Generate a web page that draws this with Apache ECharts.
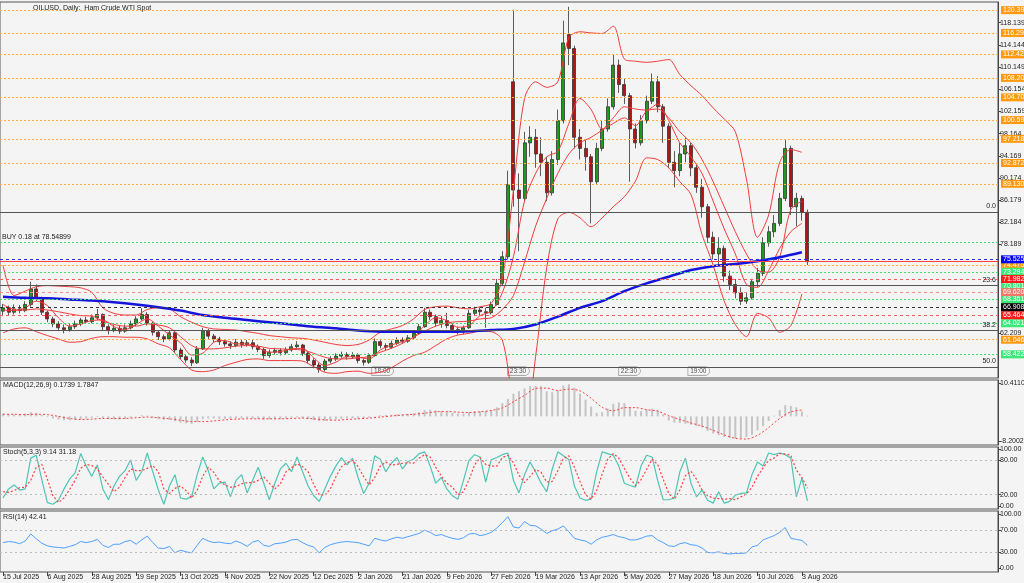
<!DOCTYPE html>
<html>
<head>
<meta charset="utf-8">
<script src="https://cdn.jsdelivr.net/npm/echarts@6/dist/echarts.min.js"></script>
<style>
  html, body { margin: 0; padding: 0; background: #f4f4f4; }
  #chart { width: 1024px; height: 583px; }
</style>
</head>
<body>
<div id="chart"></div>
<script>
/* ===== OILUSD daily chart: candles + BB + MA200, MACD, Stoch, RSI ===== */

/* ---- Data (one candle = 2 trading days, bands every 4 days, MA200 every 8) ---- */
const dateLabels = ["15 Jul 2025","6 Aug 2025","28 Aug 2025","19 Sep 2025","13 Oct 2025","4 Nov 2025",
  "22 Nov 2025","12 Dec 2025","2 Jan 2026","21 Jan 2026","9 Feb 2026","27 Feb 2026","19 Mar 2026",
  "13 Apr 2026","5 May 2026","27 May 2026","18 Jun 2026","10 Jul 2026","3 Aug 2026"];

const barOpen = [66.2,66.8,66.0,66.6,66.3,67.4,70.2,68.5,66.0,64.8, 63.9,63.2,62.9,63.4,63.9,64.6,64.3,65.0,65.6,63.4,
  62.7,63.1,62.6,63.2,63.9,64.8,65.6,64.0,62.4,61.6, 61.2,62.3,59.2,58.0,57.4,56.9,59.4,62.6,61.7,61.2,
  60.7,60.3,60.0,60.6,60.2,60.5,59.8,59.3,58.2,58.8, 59.1,58.7,59.2,59.8,60.1,58.6,57.3,56.5,55.7,57.2,
  57.6,58.1,58.4,58.0,58.3,57.3,57.0,58.2,60.7,60.0, 59.7,60.4,61.0,60.8,61.4,62.2,63.4,66.0,65.2,64.0,
  64.5,63.6,62.9,62.5,63.2,65.8,66.4,66.1,65.9,67.4, 71.2,76.0,107.5,88.0,86.5,96.5,97.5,94.5,93.0,87.5,
  93.5,100.5,116.0,113.5,97.5,95.5,94.0,89.5,95.5,99.0, 103.0,110.5,107.0,105.0,99.0,96.5,100.5,104.0,107.5,103.0,
  99.5,93.0,91.5,94.5,96.0,92.0,88.5,85.0,79.5,76.5, 77.5,72.5,71.0,69.5,68.0,68.6,71.5,73.0,78.5,80.5,
  82.0,86.5,95.5,85.0,86.5,84.0];
const barClose = [66.8,66.0,66.6,66.3,67.4,70.2,68.5,66.0,64.8,63.9, 63.2,62.9,63.4,63.9,64.6,64.3,65.0,65.6,63.4,62.7,
  63.1,62.6,63.2,63.9,64.8,65.6,64.0,62.4,61.6,61.2, 62.3,59.2,58.0,57.4,56.9,59.4,62.6,61.7,61.2,60.7,
  60.3,60.0,60.6,60.2,60.5,59.8,59.3,58.2,58.8,59.1, 58.7,59.2,59.8,60.1,58.6,57.3,56.5,55.7,57.2,57.6,
  58.1,58.4,58.0,58.3,57.3,57.0,58.2,60.7,60.0,59.7, 60.4,61.0,60.8,61.4,62.2,63.4,66.0,65.2,64.0,64.5,
  63.6,62.9,62.5,63.2,65.8,66.4,66.1,65.9,67.4,71.2, 76.0,89.0,88.0,86.5,96.5,97.5,94.5,93.0,87.5,93.5,
  100.5,114.5,113.5,97.5,95.5,94.0,89.5,95.5,99.0,103.0, 110.5,107.0,105.0,99.0,96.5,100.5,104.0,107.5,103.0,99.5,
  93.0,91.5,94.5,96.0,92.0,88.5,85.0,79.5,76.5,77.5, 72.5,71.0,69.5,68.0,68.6,71.5,73.0,78.5,80.5,82.0,
  86.5,95.5,85.0,86.5,84.0,75.1];
const barHigh = [67.5,67.2,67.4,67.3,68.0,71.5,71.0,68.8,66.3,65.2, 64.4,63.8,63.9,64.5,65.0,65.2,65.6,66.6,65.8,63.8,
  63.7,63.6,63.8,64.5,65.3,66.7,66.0,64.3,62.8,62.0, 62.8,62.5,59.6,58.5,57.9,59.9,63.2,63.0,62.1,61.6,
  61.1,60.8,61.2,61.0,61.0,61.0,60.2,59.6,59.3,59.6, 59.5,59.7,60.3,60.8,60.3,58.9,57.7,56.9,57.6,58.1,
  58.6,58.9,58.8,58.8,58.6,57.7,58.6,61.3,61.2,60.4, 60.9,61.5,61.5,61.9,62.7,63.9,66.8,66.5,65.6,65.3,
  65.9,64.0,63.4,63.6,66.4,67.0,66.9,66.8,67.9,72.0, 77.0,91.5,120.5,91.0,98.5,99.5,99.0,97.5,94.0,95.0,
  102.5,118.5,121.0,114.0,99.0,97.0,94.5,96.5,100.5,104.5, 112.5,111.5,108.0,105.5,100.0,101.5,105.0,109.0,108.5,103.5,
  100.0,95.0,96.5,97.5,96.5,92.5,90.0,85.5,80.5,79.5, 78.0,73.5,72.0,70.5,69.5,72.0,74.0,79.5,81.5,83.5,
  87.5,97.0,96.0,87.5,87.0,84.5];
const barLow = [65.3,65.5,65.6,65.8,66.0,67.0,68.0,65.5,64.2,63.3, 62.6,62.2,62.5,63.0,63.5,63.9,64.0,64.6,62.8,62.0,
  62.4,62.1,62.3,62.9,63.5,64.5,63.6,61.8,61.0,60.6, 60.9,58.8,57.5,56.9,56.3,56.7,59.2,61.2,60.6,60.1,
  59.8,59.4,59.7,59.6,59.8,59.3,58.8,57.6,57.8,58.4, 58.2,58.4,58.9,59.5,58.1,56.8,55.9,55.1,55.3,56.8,
  57.2,57.8,57.5,57.6,56.8,56.4,56.7,58.0,59.5,59.2, 59.4,60.1,60.3,60.5,61.1,61.9,63.2,64.6,63.4,63.2,
  63.1,62.3,62.0,62.0,63.0,65.5,65.4,63.2,65.6,67.2, 70.8,75.5,85.0,77.0,86.0,94.0,92.0,90.5,86.0,87.0,
  92.5,100.0,110.5,95.5,93.5,91.5,82.0,89.0,95.0,98.5, 102.5,105.5,103.5,89.5,95.5,96.0,100.0,103.5,102.0,96.5,
  92.0,88.5,90.5,93.0,90.5,87.5,83.0,78.5,75.5,74.5, 71.5,70.0,68.5,67.3,67.5,68.3,70.5,72.5,77.8,79.5,
  81.5,86.0,83.5,81.5,82.5,74.5];

const bbUpper = [74.5,69.0,69.8,70.6,70.8,70.7,70.6,70.4,69.6,66.8, 65.8,65.5,65.5,66.5,66.8,66.6,65.2,64.2,63.4,63.0,
  62.9,62.8,62.5,62.2,61.8,61.6,61.4,61.3,61.0,60.6, 60.2,60.0,60.2,61.0,62.4,63.0,63.6,64.8,66.5,67.0,
  67.1,66.8,66.6,67.0,67.6,72.0,88.0,104.5,107.5,106.5, 107.5,115.5,116.5,116.3,116.2,117.5,111.6,111.2,111.0,111.2,
  111.5,108.8,106.8,105.0,102.8,100.8,98.5,90.0,79.5,83.5, 93.0,95.3,94.8];
const bbMid = [67.4,66.5,66.4,66.6,66.4,66.1,65.7,65.4,65.3,64.4, 63.8,63.5,63.5,63.9,63.7,63.2,61.6,60.0,59.4,59.4,
  59.6,59.9,60.0,59.9,59.5,59.4,59.3,59.2,58.6,57.9, 57.6,57.6,57.8,58.0,58.8,59.5,60.4,61.5,62.6,63.5,
  64.1,64.3,64.4,64.8,65.0,66.5,69.0,75.0,81.5,86.5, 91.0,94.5,96.5,97.5,98.8,100.0,101.0,99.6,102.2,102.6,
  101.0,98.5,96.5,93.5,89.5,85.0,80.5,76.5,73.6,73.2, 76.0,84.5,86.0];
const bbLower = [62.3,63.0,63.2,62.5,61.8,61.2,60.6,60.7,61.3,61.6, 61.6,61.5,61.5,61.2,60.3,59.6,57.5,55.6,55.3,55.6,
  56.4,57.0,57.5,57.6,57.3,57.3,57.3,57.2,56.2,55.2, 55.0,55.3,55.4,55.0,55.2,56.0,57.2,58.2,58.8,60.0,
  61.2,61.9,62.2,62.6,62.5,61.0,50.0,45.0,58.0,74.0, 82.8,84.0,83.0,81.4,83.0,85.0,86.8,89.6,93.8,93.5,
  92.0,89.5,87.2,80.0,74.5,68.0,63.8,61.6,65.8,65.0, 62.4,63.6,69.3];
const maFast = [66.4,66.3,66.8,68.0,67.2,65.0,63.5,63.9,64.5,64.6, 63.4,62.9,63.8,64.8,63.5,61.9,60.5,58.3,58.6,60.6,
  60.9,60.3,60.3,59.6,58.8,58.9,59.4,59.5,57.8,56.4, 57.0,58.0,57.9,57.6,59.2,60.1,60.7,61.5,63.6,65.0,
  64.5,63.3,63.6,65.4,66.2,69.5,76.0,86.0,91.0,94.0, 95.0,100.0,104.5,102.5,99.0,101.0,103.0,102.6,102.4,103.5,
  100.5,96.5,94.0,91.0,86.0,81.0,76.5,71.0,70.5,73.5, 77.5,80.5,82.0];
const ma200 = [68.8,68.6,68.5,68.3,68.1,67.8,67.4,66.9,66.3,65.5, 65.0,64.6,64.2,63.8,63.4,63.1,62.7,62.5,62.5,62.5,
  62.5,62.6,62.8,63.0,63.8,65.2,66.8,68.0,69.8,71.2, 72.4,73.6,74.3,74.7,75.2,75.9,76.8];

const macdHist = [0.8,0.6,0.5,0.5,0.8,1.2,1.0,0.4,-0.2,-0.6,-0.9,
  -1.1,-1.1,-1.0,-0.8,-0.6,-0.4,-0.2,-0.5,-0.8,-0.8, -0.9,-0.7,-0.4,-0.1,0.3,0.2,-0.3,-0.7,-1.0,-1.0,
  -1.4,-1.8,-2.0,-2.1,-1.6,-0.8,-0.6,-0.6,-0.7,-0.7, -0.7,-0.6,-0.6,-0.5,-0.6,-0.7,-0.9,-0.9,-0.8,-0.8,
  -0.6,-0.4,-0.3,-0.5,-0.8,-1.1,-1.4,-1.3,-1.1,-0.9, -0.7,-0.6,-0.5,-0.6,-0.6,-0.4,0.1,0.3,0.4,0.5,
  0.6,0.6,0.7,0.9,1.2,1.8,1.9,1.7,1.5,1.3, 1.0,0.8,0.8,1.2,1.5,1.5,1.5,1.8,2.6,3.8,
  5.0,6.5,7.2,8.0,8.6,8.7,8.6,7.2,6.9,7.4, 8.8,9.2,8.2,6.5,4.8,2.8,1.0,1.2,2.2,3.6,
  4.0,3.8,2.6,1.6,1.5,2.0,2.2,1.9,0.6,-1.2, -1.8,-1.9,-2.1,-2.4,-2.8,-3.2,-4.2,-4.9,-5.4,-5.9,
  -6.2,-6.4,-6.3,-5.9,-5.3,-4.0,-2.8,-1.3,0.2,1.8, 3.2,3.0,2.6,1.4,0.2];
const macdSignal = [0.6,0.6,0.5,0.6,0.5,0.0,-0.6,-0.9,-0.8,-0.6, -0.6,-0.6,-0.4,-0.2,-0.4,-0.7,-1.1,-1.5,-1.5,-1.3,
  -1.0,-0.8,-0.7,-0.7,-0.7,-0.7,-0.6,-0.5,-0.7,-1.0, -1.1,-0.9,-0.7,-0.5,-0.2,0.1,0.4,0.6,0.9,1.3,
  1.4,1.2,1.1,1.3,1.7,2.4,4.2,6.0,8.0,8.1, 7.4,7.8,7.3,5.2,2.6,1.6,2.5,2.5,1.9,1.5,
  0.2,-0.9,-1.9,-2.8,-4.0,-5.3,-6.3,-6.5,-5.4,-3.2, -0.6,1.3,1.8];
const macdRange = [-8.2002, 10.4110];

const stochK = [14,30,37,28,30,84,89,46,6,3, 10,30,47,58,92,70,52,72,30,11, 35,52,62,81,45,60,93,60,28,3,
  35,55,14,12,16,55,86,62,30,40, 42,16,45,55,23,45,68,40,11,40, 65,75,60,86,60,35,18,8,30,52,
  70,85,72,84,50,22,40,88,82,60, 75,85,65,78,82,92,95,70,40,50, 30,18,12,45,80,90,86,42,81,85,
  90,93,45,23,55,77,60,40,25,65, 95,88,81,35,14,10,12,60,95,92, 89,70,40,36,33,70,89,86,45,11,
  11,14,60,84,40,16,28,10,5,25, 5,8,19,22,23,55,77,70,93,90, 93,90,84,16,49,9];
const stochD = [25,24,27,32,33,45,68,73,47,18, 6,14,29,45,66,73,71,65,51,38, 25,33,50,65,62,62,66,71,60,30,
  22,31,35,27,14,28,52,68,59,44, 37,33,34,39,41,41,45,51,40,30, 39,60,67,74,69,60,38,20,19,30,
  51,69,76,80,69,52,37,50,70,77, 72,73,75,76,75,84,90,86,68,53, 40,33,20,25,46,72,85,73,70,70,
  85,89,76,54,41,52,64,59,42,43, 62,83,88,68,43,20,12,27,56,82, 92,84,66,49,36,46,64,82,73,47,
  22,12,28,53,61,47,28,18,14,13, 12,13,11,16,21,33,52,67,80,84, 92,91,89,63,50,31];
const rsi14 = [47,49,48,45,50,63,54,46,41,39, 38,37,40,43,49,47,49,53,42,38, 44,44,49,51,44,52,59,47,37,36,
  40,28,33,30,28,42,55,50,47,48, 46,45,50,46,40,48,51,42,40,45, 46,48,52,53,47,42,39,28,38,43,
  46,48,49,48,47,44,41,55,52,50, 54,57,55,58,61,64,70,66,60,62, 58,55,53,56,63,64,60,62,66,74,
  84,95,76,74,86,79,78,72,64,69, 72,78,67,55,52,50,44,52,57,59, 62,58,56,52,52,55,59,60,52,47,
  41,40,45,47,43,42,37,29,28,30, 27,26,27,27,28,39,42,52,56,60, 66,75,55,53,51,42];

const priceTicks = [118.139,114.144,110.149,106.154,102.159,98.164,94.169,90.174,86.179,82.184,78.189,62.209];
const orangeLevels = [120.398,116.292,112.429,108.203,104.703,100.596,97.218,92.872,89.130,74.475,61.046];
const greenLevels = [73.294,70.801,68.351,64.021,58.422];
const redLevels = [71.982,65.464];
const salmonLevels = [69.620];
const blackLevels = [66.908];
const blueLevels = [75.525];
const buyLevel = 78.549;
const bidLevel = 75.10;
const fibPrices = [84.05,70.88,62.73,56.14];
const fibNames = ["0.0","23.6","38.2","50.0"];
const tradeDays = [133,182,222,247];
const tradeTimes = ["18:00","23:30","22:30","19:00"];

/* ---- Layout constants ---- */
const FONT = "'Liberation Sans', 'DejaVu Sans', sans-serif";
const FS = 7;
const X_MIN = -1.08, X_MAX = 358.69;
const BAR_STEP = 2, BAND_STEP = 4, MA_STEP = 8, LABEL_STEP = 16;
const dayTicks = dateLabels.map((_, i) => i * LABEL_STEP);

const at = (values, step) => values.map((v, i) => [i * step, v]);
const candles = barOpen.map((o, i) => [i * BAR_STEP, o, barClose[i], barLow[i], barHigh[i]]);

/* ---- Mark lines ---- */
function level(v, color, dash, bg) {
  return {
    yAxis: v,
    lineStyle: { color, type: dash, width: 1 },
    label: {
      show: true, position: "end", distance: 3, formatter: v.toFixed(3),
      backgroundColor: bg, color: "#fff", fontSize: FS, padding: [1, 2, 0, 2], fontFamily: FONT
    }
  };
}
const levelLines = [].concat(
  orangeLevels.map(v => level(v, "#ffae4a", [2, 2], "#ff9a10")),
  greenLevels.map(v => level(v, "#4cd870", [2, 2], "#3ce878")),
  redLevels.map(v => level(v, "#ff5a5a", [3, 3], "#ff1a1a")),
  salmonLevels.map(v => level(v, "#f59080", [3, 3], "#f07868")),
  blackLevels.map(v => level(v, "#333", [3, 3], "#000")),
  blueLevels.map(v => level(v, "#2828ff", [3, 3], "#0000ff")),
  fibPrices.map((v, i) => ({
    yAxis: v, lineStyle: { color: "#555", type: "solid", width: 1 },
    label: { show: true, position: "insideEndTop", formatter: fibNames[i], color: "#222", fontSize: FS, distance: 2 }
  })),
  [{
    yAxis: buyLevel, lineStyle: { color: "#4cd870", type: [2, 2], width: 1 },
    label: { show: true, position: "insideStartTop", formatter: "BUY 0.18 at 78.54899", color: "#222", fontSize: FS, distance: 2 }
  }, {
    yAxis: bidLevel, lineStyle: { color: "#ff4040", type: "solid", width: 1 }, label: { show: false }
  }]
);

const refLine = v => ({ yAxis: v, lineStyle: { color: "#bbb", type: [2, 3], width: 1 }, label: { show: false } });

/* ---- Axes ---- */
const GRIDS = [
  { top: 2, height: 376 },
  { top: 380, height: 65 },
  { top: 447, height: 62 },
  { top: 511, height: 61 }
].map(g => Object.assign({
  left: 0, right: 26, show: true, backgroundColor: "#f4f4f4", borderColor: "#555", borderWidth: 1,
  containLabel: false, outerBoundsMode: "none"
}, g));

function yAx(i, min, max, ticks, fmt) {
  return {
    type: "value", gridIndex: i, position: "right", min, max, scale: true,
    splitLine: { show: false },
    axisLine: { show: true, onZero: false, lineStyle: { color: "#444" } },
    axisTick: { show: true, length: 3, customValues: ticks, lineStyle: { color: "#444" } },
    axisLabel: { customValues: ticks, formatter: fmt, fontSize: FS, color: "#222", margin: 2, fontFamily: FONT }
  };
}

const xAxes = [0, 1, 2, 3].map(i => ({
  type: "value", gridIndex: i, min: X_MIN, max: X_MAX, show: i === 3,
  splitLine: { show: false },
  axisLine: { show: false, onZero: false },
  axisTick: { show: true, length: 4, customValues: dayTicks, lineStyle: { color: "#444" } },
  axisLabel: {
    customValues: dayTicks, formatter: v => dateLabels[dayTicks.indexOf(v)] || "",
    align: "left", fontSize: FS, color: "#222", margin: 2, fontFamily: FONT
  }
}));

const macdLabelAt = [macdRange[1] - 0.95, macdRange[0] + 1.15];

const option = {
  animation: false,
  backgroundColor: "#f4f4f4",
  textStyle: { fontFamily: FONT },
  title: [
    { text: "OILUSD, Daily:  Ham Crude WTI Spot", left: 33, top: 5 },
    { text: "MACD(12,26,9) 0.1739 1.7847", left: 3, top: 382 },
    { text: "Stoch(5,3,3) 9.14 31.18", left: 3, top: 449 },
    { text: "RSI(14) 42.41", left: 3, top: 514 }
  ].map(t => Object.assign({ padding: 0, textStyle: { fontSize: FS, fontWeight: "normal", color: "#222", fontFamily: FONT } }, t)),
  grid: GRIDS,
  xAxis: xAxes,
  yAxis: [
    yAx(0, 54.16, 121.866, priceTicks, v => v.toFixed(3)),
    yAx(1, macdRange[0], macdRange[1], macdLabelAt, v => (v > 0 ? macdRange[1] : macdRange[0]).toFixed(4)),
    yAx(2, -5.26, 103.5, [0, 20, 80, 100], v => v.toFixed(2)),
    yAx(3, -7.41, 105.56, [0, 30, 70, 100], v => v.toFixed(2))
  ],
  series: [
    {
      type: "candlestick", xAxisIndex: 0, yAxisIndex: 0, data: candles, barWidth: 3.5,
      encode: { x: 0, y: [1, 2, 3, 4] },
      itemStyle: { color: "#1e9a1e", color0: "#b01515", borderColor: "#333", borderColor0: "#333", borderWidth: 0.8 },
      markLine: { symbol: ["none", "none"], silent: true, animation: false, data: levelLines }
    },
    ...[bbUpper, bbMid, bbLower, maFast].map(arr => ({
      type: "line", xAxisIndex: 0, yAxisIndex: 0, data: at(arr, BAND_STEP), symbol: "none", smooth: 0.3,
      lineStyle: { color: "#f03c3c", width: 1 }, z: 3
    })),
    {
      type: "line", xAxisIndex: 0, yAxisIndex: 0, data: at(ma200, MA_STEP), symbol: "none", smooth: 0.3,
      lineStyle: { color: "#1414dc", width: 2.5 }, z: 4
    },
    {
      type: "scatter", xAxisIndex: 0, yAxisIndex: 0, symbolSize: 0,
      data: tradeDays.map((d, i) => ({ value: [d, 55.4], name: tradeTimes[i] })),
      label: {
        show: true, position: "right", distance: 0, formatter: p => p.name, fontSize: 6.5, color: "#222",
        backgroundColor: "#f8f8f8", borderColor: "#777", borderWidth: 0.6, borderRadius: [0, 4, 4, 0], padding: [1, 3, 0, 2]
      }
    },
    {
      type: "bar", xAxisIndex: 1, yAxisIndex: 1, data: at(macdHist, BAR_STEP), barWidth: 2,
      itemStyle: { color: "#c4c4c4" }
    },
    {
      type: "line", xAxisIndex: 1, yAxisIndex: 1, data: at(macdSignal, BAND_STEP), symbol: "none", smooth: 0.3,
      lineStyle: { color: "#ff4040", width: 1, type: [2, 2] }
    },
    {
      type: "line", xAxisIndex: 2, yAxisIndex: 2, data: at(stochK, BAR_STEP), symbol: "none",
      lineStyle: { color: "#4fc4b4", width: 1.2 },
      markLine: { symbol: ["none", "none"], silent: true, data: [refLine(20), refLine(80)] }
    },
    {
      type: "line", xAxisIndex: 2, yAxisIndex: 2, data: at(stochD, BAR_STEP), symbol: "none",
      lineStyle: { color: "#ff4040", width: 1.2, type: [2, 2] }
    },
    {
      type: "line", xAxisIndex: 3, yAxisIndex: 3, data: at(rsi14, BAR_STEP), symbol: "none",
      lineStyle: { color: "#4ea0ff", width: 1 },
      markLine: { symbol: ["none", "none"], silent: true, data: [refLine(30), refLine(70)] }
    }
  ]
};

const chart = echarts.init(document.getElementById("chart"), null, { renderer: "canvas" });
chart.setOption(option);
</script>
</body>
</html>
